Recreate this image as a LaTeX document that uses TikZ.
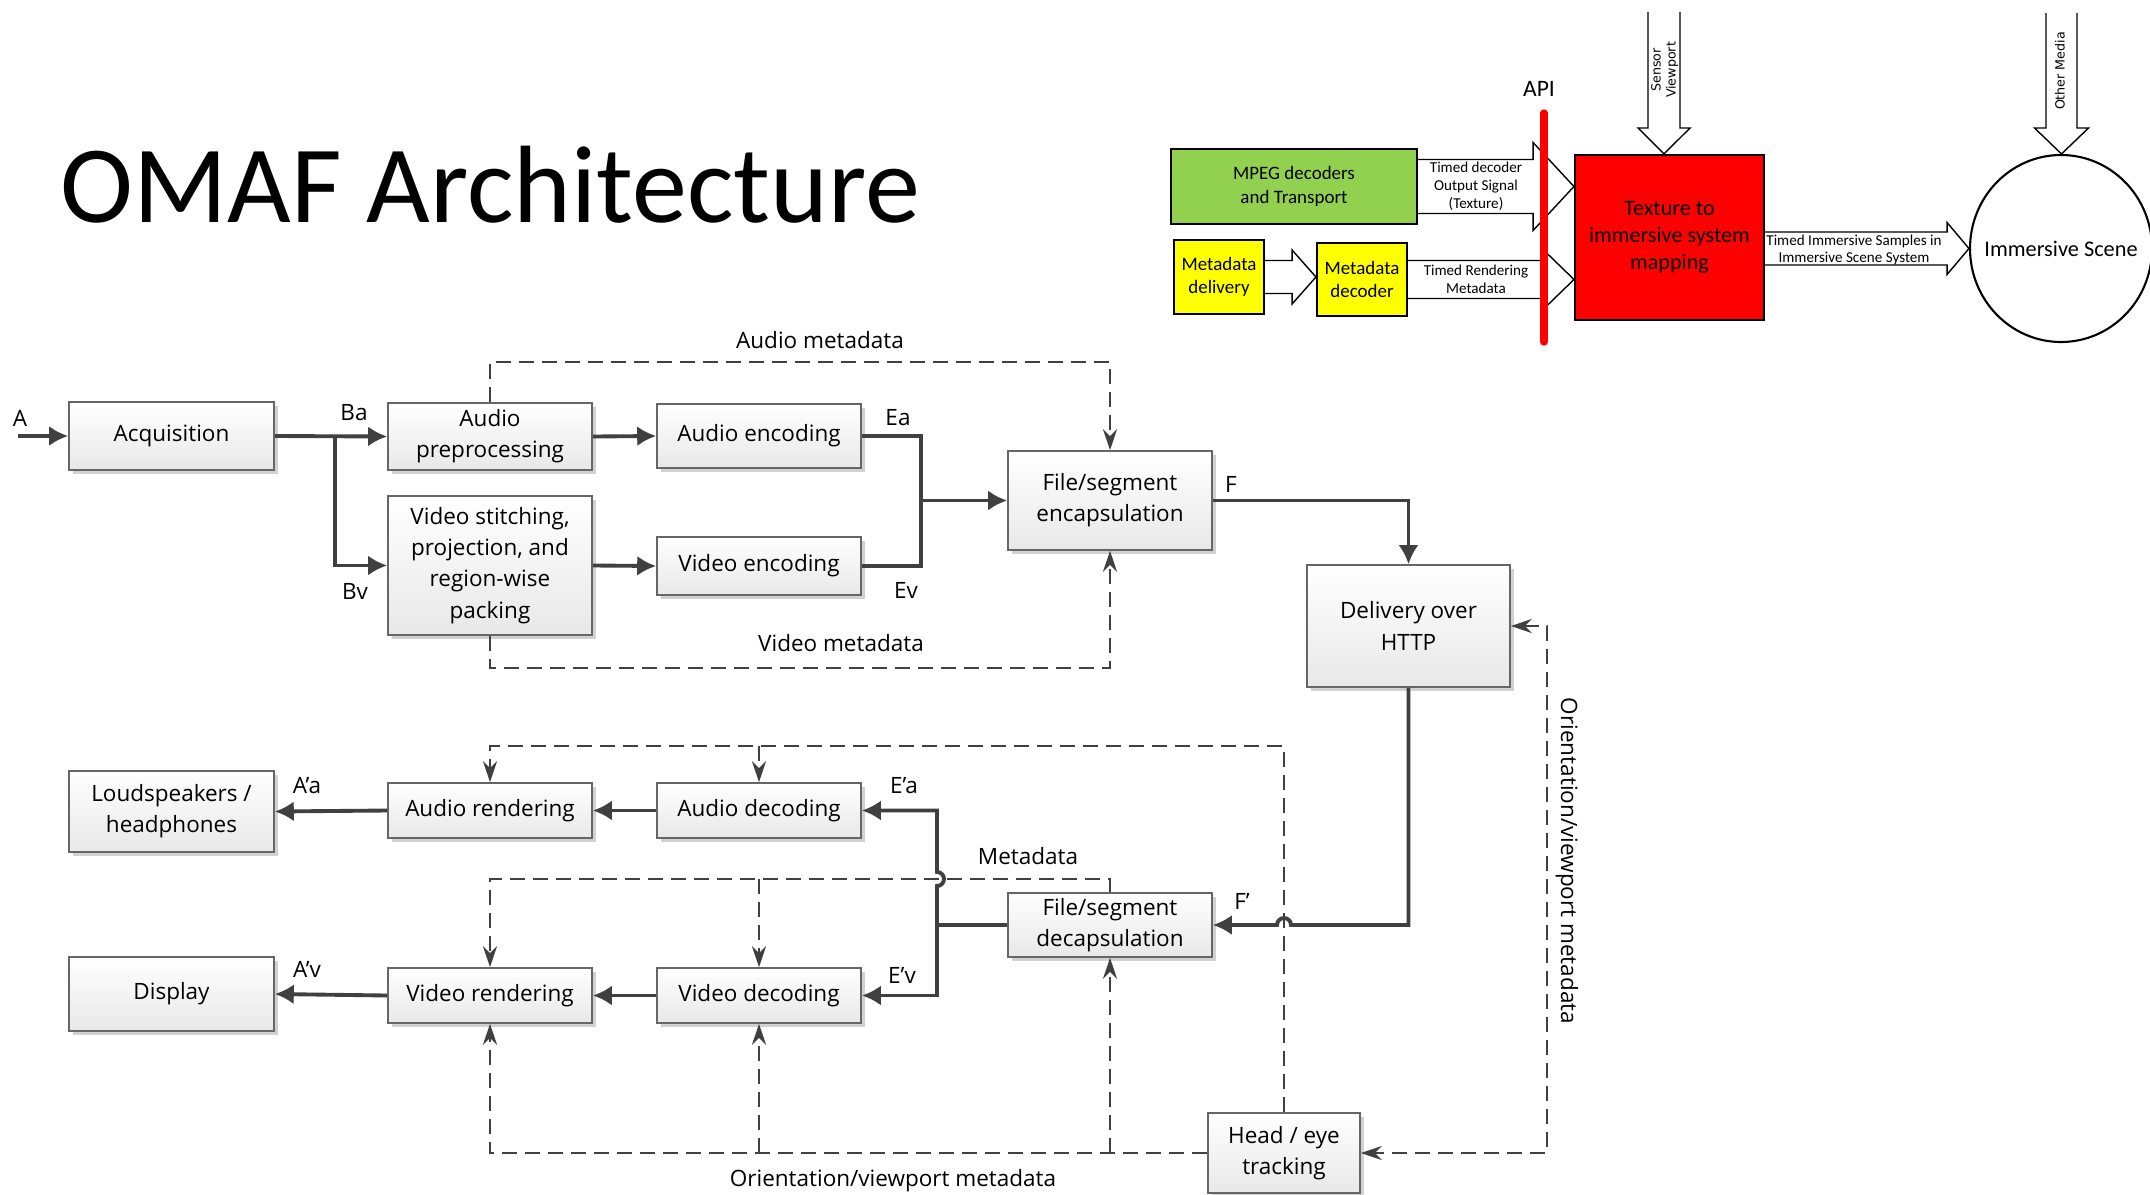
\documentclass[tikz,border=0pt]{standalone}
\usepackage{fontspec}
\setmainfont{Open Sans}
\newfontfamily\calfont{Carlito}
\newfontfamily\verfont{DejaVu Sans}
\usepackage{tikz}
\usetikzlibrary{arrows.meta,calc,shadows,shapes.geometric,backgrounds}
\definecolor{linegray}{HTML}{404040}
\definecolor{boxline}{HTML}{666666}
\definecolor{mpeggreen}{HTML}{92D050}
\definecolor{metayellow}{HTML}{FFFF00}
\definecolor{texred}{HTML}{FF0000}

\tikzset{
  stagebox/.style={draw=boxline, line width=0.45pt, top color=white, bottom color=black!9,
    inner sep=0pt, align=center, font=\fontsize{6.4}{8.9}\selectfont,
    drop shadow={shadow xshift=0.04cm, shadow yshift=-0.04cm, fill=black!18, opacity=1}},
  flowline/.style={draw=linegray, line width=1.1pt},
  flowarrow/.style={flowline, -{Latex[length=0.19cm,width=0.2cm]}},
  metaline/.style={draw=linegray, line width=0.7pt, dash pattern=on 0.15cm off 0.08cm},
  metaarrow/.style={metaline, -{Stealth[length=0.21cm,width=0.14cm]}},
  metaboth/.style={metaline, {Stealth[length=0.21cm,width=0.14cm]}-{Stealth[length=0.21cm,width=0.14cm]}},
  tag/.style={inner sep=0pt, font=\fontsize{6.4}{8.9}\selectfont},
  colbox/.style={draw=black, line width=0.6pt, inner sep=0pt, align=center, font=\calfont\fontsize{5.4}{6.6}\selectfont},
  fatarrow/.style={draw=black, line width=0.4pt, fill=white, line join=miter},
  fatlabel/.style={inner sep=0pt, align=center, font=\calfont\fontsize{4.3}{5.1}\selectfont},
  sidelabel/.style={inner sep=0pt, rotate=90, font=\verfont\fontsize{3.6}{4.3}\selectfont},
}

\begin{document}
\begin{tikzpicture}
\useasboundingbox (0,0) rectangle (21.5,-11.95);

\node[anchor=base west, inner sep=0pt, font=\calfont\fontsize{31.3}{36}\selectfont] (title) at (0.60,-2.22) {OMAF Architecture};

% player side, top right
\node[colbox, fill=mpeggreen, minimum width=2.46cm, minimum height=0.75cm] (mpeg) at (12.94,-1.865) {MPEG decoders\\and Transport};
\node[colbox, fill=metayellow, minimum width=0.90cm, minimum height=0.74cm] (mdel) at (12.19,-2.77) {Metadata\\delivery};
\node[colbox, fill=metayellow, minimum width=0.90cm, minimum height=0.73cm] (mdec) at (13.62,-2.795) {Metadata\\decoder};
\node[colbox, fill=texred, minimum width=1.89cm, minimum height=1.65cm, font=\calfont\fontsize{6.3}{7.7}\selectfont] (tex) at (16.695,-2.375) {Texture to\\immersive system\\mapping};
\node[draw=black, line width=0.6pt, ellipse, minimum width=1.82cm, minimum height=1.87cm, inner sep=0pt] (scene) at (20.61,-2.485) {};
\node[inner sep=0pt, font=\calfont\fontsize{6.35}{7.7}\selectfont] (scenetxt) at (scene) {Immersive Scene};
\coordinate (sensorin) at (16.64,-0.12);
\coordinate (otherin) at (20.615,-0.13);

\begin{scope}[on background layer]
\path[fill=white] (0,0) rectangle (21.5,-11.95);
\draw[fatarrow] ($(mpeg.east)+(0,0.27)$) -- ++(1.15,0) -- ++(0,0.17) -- (tex.west |- mpeg.east)
  -- ($(mpeg.east)+(1.15,-0.44)$) -- ++(0,0.17) -- ($(mpeg.east)+(0,-0.27)$);
\draw[fatarrow] ($(mdel.east)+(0,0.165)$) -- ++(0.27,0) -- ++(0,0.105) -- (mdec.west |- mdel.east)
  -- ($(mdel.east)+(0.27,-0.27)$) -- ++(0,0.105) -- ($(mdel.east)+(0,-0.165)$);
\draw[fatarrow] ($(mdec.east)+(0,0.19)$) -- ++(1.35,0) -- ++(0,0.11) -- (tex.west |- mdec.east)
  -- ($(mdec.east)+(1.35,-0.30)$) -- ++(0,0.11) -- ($(mdec.east)+(0,-0.19)$);
\draw[fatarrow] ($(tex.east |- scene.west)+(0,0.165)$) -- ++(1.82,0) -- ++(0,0.095) -- (scene.west)
  -- ($(tex.east |- scene.west)+(1.82,-0.26)$) -- ++(0,0.095) -- ($(tex.east |- scene.west)+(0,-0.165)$);
\draw[fatarrow] ($(sensorin)+(-0.16,0)$) -- ++(0,-1.16) -- ++(-0.10,0) -- (sensorin |- tex.north)
  -- ($(sensorin)+(0.26,-1.16)$) -- ++(-0.10,0) -- ($(sensorin)+(0.16,0)$);
\draw[fatarrow] ($(otherin)+(-0.155,0)$) -- ++(0,-1.15) -- ++(-0.115,0) -- (otherin |- scene.north)
  -- ($(otherin)+(0.27,-1.15)$) -- ++(-0.115,0) -- ($(otherin)+(0.155,0)$);
\end{scope}

\node[fatlabel] (tdo) at (14.76,-1.865) {Timed decoder\\Output Signal\\(Texture)};
\node[fatlabel] (trm) at (14.76,-2.795) {Timed Rendering\\Metadata};
\node[fatlabel] (tis) at (18.54,-2.50) {Timed Immersive Samples in\\Immersive Scene System};
\node[sidelabel] (sen) at (16.56,-0.70) {Sensor};
\node[sidelabel] (vwp) at (16.72,-0.70) {Viewport};
\node[sidelabel] (oth) at (20.60,-0.71) {Other Media};

\coordinate (apitop) at (15.44,-1.13);
\coordinate (apibot) at (15.44,-3.42);
\draw[texred, line width=2.1pt, line cap=round] (apitop) -- (apibot);
\node[inner sep=0pt, font=\calfont\fontsize{6.7}{8}\selectfont] (api) at (15.39,-0.89) {API};

% OMAF chain
\node[stagebox, minimum width=2.05cm, minimum height=0.68cm] (acq) at (1.715,-4.36) {Acquisition};
\node[stagebox, minimum width=2.04cm, minimum height=0.67cm] (apre) at (4.90,-4.365) {Audio\\preprocessing};
\node[stagebox, minimum width=2.04cm, minimum height=0.64cm] (aenc) at (7.59,-4.36) {Audio encoding};
\node[stagebox, minimum width=2.04cm, minimum height=1.39cm] (vpre) at (4.90,-5.655) {Video stitching,\\projection, and\\region-wise\\packing};
\node[stagebox, minimum width=2.04cm, minimum height=0.58cm] (venc) at (7.59,-5.66) {Video encoding};
\node[stagebox, minimum width=2.04cm, minimum height=0.99cm] (fenc) at (11.10,-5.005) {File/segment\\encapsulation};
\node[stagebox, minimum width=2.03cm, minimum height=1.22cm] (http) at (14.085,-6.26) {Delivery over\\HTTP};
\node[stagebox, minimum width=2.05cm, minimum height=0.81cm] (spk) at (1.715,-8.115) {Loudspeakers /\\headphones};
\node[stagebox, minimum width=2.04cm, minimum height=0.55cm] (arend) at (4.90,-8.105) {Audio rendering};
\node[stagebox, minimum width=2.04cm, minimum height=0.55cm] (adec) at (7.59,-8.105) {Audio decoding};
\node[stagebox, minimum width=2.04cm, minimum height=0.64cm] (fdec) at (11.10,-9.25) {File/segment\\decapsulation};
\node[stagebox, minimum width=2.05cm, minimum height=0.74cm] (disp) at (1.715,-9.94) {Display};
\node[stagebox, minimum width=2.04cm, minimum height=0.55cm] (vrend) at (4.90,-9.955) {Video rendering};
\node[stagebox, minimum width=2.04cm, minimum height=0.55cm] (vdec) at (7.59,-9.955) {Video decoding};
\node[stagebox, minimum width=1.52cm, minimum height=0.80cm] (head) at (12.84,-11.53) {Head / eye\\tracking};

\coordinate (ain) at (0.18,-4.36);
\coordinate (bsplit) at (3.35,-4.36);
\coordinate (emerge) at (9.21,-5.005);
\coordinate (dsplit) at (9.37,-9.25);
\coordinate (amtop) at (4.90,-3.62);
\coordinate (vmbot) at (4.90,-6.68);
\coordinate (mdtop) at (11.10,-8.79);
\coordinate (httop) at (12.84,-7.46);
\coordinate (omright) at (15.47,-6.26);

\draw[flowarrow] (ain) -- (acq.west);
\draw[flowarrow] (acq.east) -- (apre.west);
\draw[flowarrow] (bsplit) |- (vpre.west);
\draw[flowarrow] (apre.east) -- (aenc.west);
\draw[flowarrow] (vpre.east) -- (venc.west);
\draw[flowline] (aenc.east) -| (emerge);
\draw[flowline] (venc.east) -| (emerge);
\draw[flowarrow] (emerge) -- (fenc.west);
\draw[flowarrow] (fenc.east) -| (http.north);
\draw[flowarrow] (http.south) |- ($(head.north |- fdec.east)+(0.07,0)$) arc[start angle=0,end angle=180,radius=0.07] -- (fdec.east);
\draw[flowline] (fdec.west) -- (dsplit);
\draw[flowarrow] (dsplit) -- ($(dsplit |- mdtop)+(0,-0.07)$) arc[start angle=-90,end angle=90,radius=0.07] |- (adec.east);
\draw[flowarrow] (dsplit) |- (vdec.east);
\draw[flowarrow] (adec.west) -- (arend.east);
\draw[flowarrow] (arend.west) -- (spk.east);
\draw[flowarrow] (vdec.west) -- (vrend.east);
\draw[flowarrow] (vrend.west) -- (disp.east);

\draw[metaarrow] (apre.north) -- (amtop) -| (fenc.north);
\draw[metaarrow] (vpre.south) -- (vmbot) -| (fenc.south);
\draw[metaarrow] (fdec.north) -- (mdtop) -| (vrend.north);
\draw[metaarrow] (vdec.north |- mdtop) -- (vdec.north);
\draw[metaarrow] (head.north) -- (httop) -| (arend.north);
\draw[metaarrow] (adec.north |- httop) -- (adec.north);
\draw[metaarrow] (head.west) -| (vrend.south);
\draw[metaarrow] (vdec.south |- head.west) -- (vdec.south);
\draw[metaarrow] (fdec.south |- head.west) -- (fdec.south);
\draw[metaboth] (http.east) -- (omright) |- (head.east);

\node[tag] (la) at (0.20,-4.18) {A};
\node[tag] (lba) at (3.54,-4.13) {Ba};
\node[tag] (lbv) at (3.55,-5.91) {Bv};
\node[tag] (lea) at (8.98,-4.18) {Ea};
\node[tag] (lev) at (9.06,-5.90) {Ev};
\node[tag] (lf) at (12.31,-4.84) {F};
\node[tag] (lfp) at (12.42,-9.01) {F’};
\node[tag] (lepa) at (9.04,-7.86) {E’a};
\node[tag] (lepv) at (9.02,-9.75) {E’v};
\node[tag] (lapa) at (3.07,-7.86) {A’a};
\node[tag] (lapv) at (3.07,-9.69) {A’v};
\node[tag] (lam) at (8.20,-3.40) {Audio metadata};
\node[tag] (lvm) at (8.41,-6.43) {Video metadata};
\node[tag] (lmd) at (10.28,-8.56) {Metadata};
\node[tag] (lom) at (8.93,-11.81) {Orientation/viewport metadata};
\node[tag, rotate=-90] (lomv) at (15.67,-8.61) {Orientation/viewport metadata};
\end{tikzpicture}
\end{document}
